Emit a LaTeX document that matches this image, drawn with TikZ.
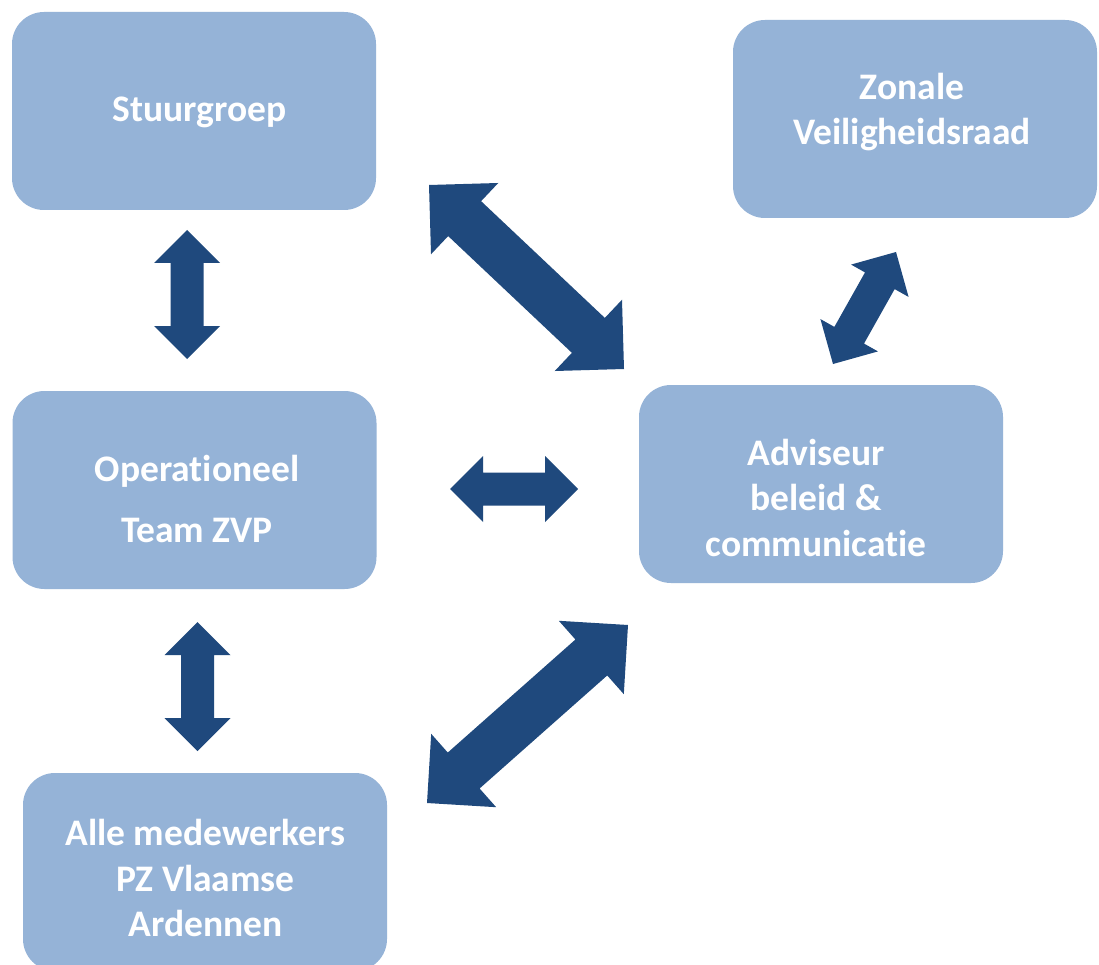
\documentclass[tikz,border=0pt]{standalone}
\usepackage{fontspec}
\setmainfont{Carlito}[Ligatures=NoCommon]
\usetikzlibrary{calc}
\definecolor{boxblue}{HTML}{95B3D7}
\definecolor{arrowblue}{HTML}{1F497D}
\tikzset{
  box/.style={fill=boxblue, draw=none, rounded corners=32pt, minimum width=364pt, minimum height=198pt, inner sep=0pt},
  lbl/.style={text=white, font=\bfseries\fontsize{37.5}{45.5}\selectfont, align=center, inner sep=0pt},
  arrowfill/.style={fill=arrowblue, draw=none}
}
% double block arrow from #1 to #2, head half-width #3, shaft half-width #4
\newcommand\dblarr[4]{%
  \fill[arrowfill] (#1)
    -- ($(#1)!#3!(#2)!#3!90:(#2)$)
    -- ($(#1)!#3!(#2)!#4!90:(#2)$)
    -- ($(#2)!#3!(#1)!#4!90:(#2)$)
    -- ($(#2)!#3!(#1)!#3!90:(#2)$)
    -- (#2)
    -- ($(#2)!#3!(#1)!#3!-90:(#2)$)
    -- ($(#2)!#3!(#1)!#4!-90:(#2)$)
    -- ($(#1)!#3!(#2)!#4!-90:(#2)$)
    -- ($(#1)!#3!(#2)!#3!-90:(#2)$)
    -- cycle;%
}
\begin{document}
\begin{tikzpicture}[x=1pt,y=-1pt]
\useasboundingbox (0,0) rectangle (1099,965);
\fill[white] (0,0) rectangle (1099,965);
\clip (0,0) rectangle (1099,965);

% boxes
\node[box] (sg) at (194,111) {};
\node[box] (zv) at (915,119) {};
\node[box] (op) at (194.5,490) {};
\node[box] (ad) at (821,484) {};
\node[box] (al) at (205,872) {};

% labels
\node[lbl] (sgt) at (199.5,112) {Stuurgroep};
\node[lbl] (zvt) at (912,112) {Zonale\\Veiligheidsraad};
\node[lbl] (opt) at (197,499) {Operationeel\\[15pt]Team ZVP};
\node[lbl] (adt) at (816,497.5) {Adviseur\\beleid \&\\communicatie};
\node[lbl] (alt) at (205.5,878) {Alle medewerkers\\PZ Vlaamse\\Ardennen};

% arrow end points
\coordinate (a1s) at (187,230);   \coordinate (a1e) at (187,359);
\coordinate (a2s) at (429,185);   \coordinate (a2e) at (624,369);
\coordinate (a3s) at (833,364);   \coordinate (a3e) at (896,252);
\coordinate (a4s) at (450,489);   \coordinate (a4e) at (578,489);
\coordinate (a5s) at (197.5,622); \coordinate (a5e) at (197.5,751);
\coordinate (a6s) at (427,803);   \coordinate (a6e) at (628,625);

\dblarr{a1s}{a1e}{33pt}{16.5pt}
\dblarr{a2s}{a2e}{49pt}{24pt}
\dblarr{a3s}{a3e}{33pt}{17pt}
\dblarr{a4s}{a4e}{33pt}{16.5pt}
\dblarr{a5s}{a5e}{33pt}{16.5pt}
\dblarr{a6s}{a6e}{49pt}{24pt}
\end{tikzpicture}
\end{document}
